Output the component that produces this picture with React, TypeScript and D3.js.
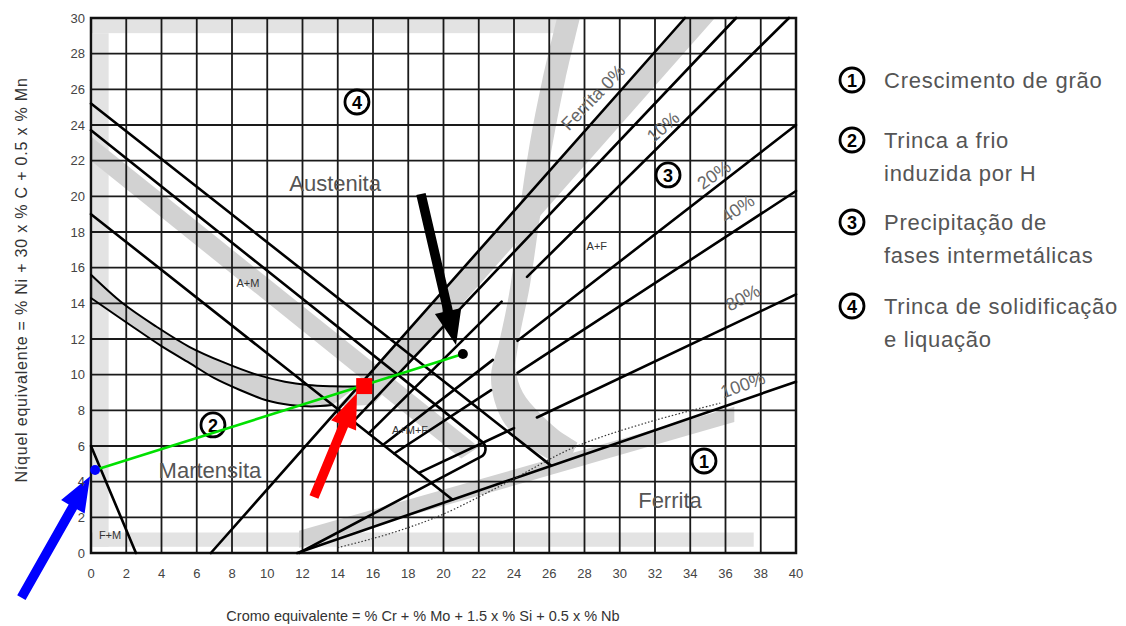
import React from 'react';
import * as d3 from 'd3';

// ---------- data (Cr eq, Ni eq) ----------
const xTicks = d3.range(0, 41, 2);
const yTicks = d3.range(0, 31, 2);

// long black boundary lines [x1, y1, x2, y2]
const boundaryLines: number[][] = [
  [0, 25.2, 26.1, 4.9],
  [0, 19.0, 20.5, 3.0],
  [0, 6.0, 2.55, 0],
  [6.8, 0, 33.7, 30],
  [14.9, 7.4, 36.6, 30],
  [11.7, 0, 40, 9.6],
];
// ferrite iso-lines, part left of the grey crescent
const ferriteLeft: number[][] = [
  [15.76, 6.71, 23.3, 14.1],
  [16.58, 6.07, 22.8, 10.83],
  [17.2, 5.58, 22.7, 9.13],
  [18.6, 4.49, 24.0, 7.0],
];
// ferrite iso-lines, part right of the grey crescent
const ferriteRight: number[][] = [
  [24.74, 15.48, 39.6, 30],
  [24.2, 11.9, 40, 24.0],
  [24.2, 10.1, 40, 20.3],
  [25.3, 7.6, 40, 14.5],
];
// rounded wedge: upper line start, corner, lower line start
const wedge = { a: [0, 23.7], corner: [22.8, 5.75], b: [11.8, 0] };

const upperCurve: [number, number][] = [
  [0, 15.6], [1.8, 14.0], [3.7, 12.7], [5.6, 11.55], [7.5, 10.7], [9.4, 10.0],
  [11.0, 9.6], [12.3, 9.42], [13.7, 9.35], [15.1, 9.33],
];
const lowerCurve: [number, number][] = [
  [0, 14.3], [2.2, 12.8], [4.0, 11.6], [5.6, 10.65], [7.0, 9.8], [8.45, 9.14],
  [10.0, 8.55], [11.3, 8.3], [12.5, 8.22], [13.7, 8.3],
];
const dottedLine: [number, number][] = [
  [14.0, 0.3], [17.0, 1.1], [19.8, 2.1], [23.5, 3.9], [27.35, 5.9], [31.5, 7.3], [35.7, 8.4],
];
const crescentLeft: [number, number][] = [
  [26.44, 30], [25.6, 26.5], [24.9, 23], [24.3, 19], [23.8, 15], [23.2, 12],
  [22.7, 10], [22.9, 8.5], [23.5, 7.2], [24.5, 6.2], [25.9, 5.3], [27, 4.8],
];
const crescentRight: [number, number][] = [
  [27.74, 30], [26.9, 26.5], [26.2, 23], [25.5, 19], [24.9, 15], [24.3, 12],
  [24.1, 10.3], [24.5, 9.0], [25.4, 7.9], [26.5, 6.9], [27.6, 6.2],
];
const lowerBand: [number, number][] = [[11.8, 0.3], [36.5, 7.35], [36.5, 8.2], [11.8, 1.25]];
const ferriteBand: [number, number][] = [[33.7, 30], [35.4, 30], [16.0, 8.3], [14.0, 8.25], [15.1, 9.35]];
const amBand: [number, number][] = [[0, 23.35], [22.0, 5.95], [21.0, 5.3], [0, 22.0]];
const borderBands: number[][] = [
  // x1, y1, x2, y2 (rectangles)
  [0, 29.15, 26.8, 29.95],
  [0.1, 0.35, 1.0, 29.15],
  [0, 0.35, 37.6, 1.15],
];

const regionLabels = [
  { t: 'Austenita', x: 13.85, y: 20.74, s: 22 },
  { t: 'Martensita', x: 6.75, y: 4.65, s: 22 },
  { t: 'Ferrita', x: 32.85, y: 2.97, s: 22 },
  { t: 'A+M', x: 8.9, y: 15.14, s: 11 },
  { t: 'A+F', x: 28.7, y: 17.2, s: 11 },
  { t: 'F+M', x: 1.08, y: 1.0, s: 11 },
  { t: 'A+M+F', x: 18.1, y: 6.9, s: 11 },
];
const pctLabels = [
  { t: 'Ferrita 0%', x: 28.5, y: 25.55, r: -46 },
  { t: '10%', x: 32.47, y: 23.89, r: -41 },
  { t: '20%', x: 35.35, y: 21.2, r: -35 },
  { t: '40%', x: 36.7, y: 19.3, r: -34 },
  { t: '80%', x: 36.99, y: 14.3, r: -28 },
  { t: '100%', x: 36.99, y: 9.42, r: -20 },
];
const circled = [
  { n: '4', x: 15.09, y: 25.29 },
  { n: '3', x: 32.74, y: 21.2 },
  { n: '2', x: 6.92, y: 7.18 },
  { n: '1', x: 34.78, y: 5.16 },
];
const legendItems = [
  { n: '1', lines: ['Crescimento de grão'] },
  { n: '2', lines: ['Trinca a frio', 'induzida por H'] },
  { n: '3', lines: ['Precipitação de', 'fases intermetálicas'] },
  { n: '4', lines: ['Trinca de solidificação', 'e liquação'] },
];
const legendY = [80, 140, 222, 306];

// annotations
const blueDot = [0.23, 4.65];
const redSquare = [15.5, 9.36];
const blackDot = [21.1, 11.16];
const arrows = [
  { tail: [-3.95, -2.5], tip: [-0.05, 4.3], color: '#0000ff' },
  { tail: [12.65, 3.14], tip: [15.09, 8.97], color: '#ff0000' },
  { tail: [18.72, 20.13], tip: [20.71, 11.66], color: '#000000' },
];

const W = 1126;
const H = 626;

export default function App() {
  const x = d3.scaleLinear().domain([0, 40]).range([91, 796]);
  const y = d3.scaleLinear().domain([0, 30]).range([553, 18]);
  const P = (p: number[]) => [x(p[0]), y(p[1])] as [number, number];
  const poly = (pts: number[][]) => pts.map((p) => P(p).join(',')).join(' ');
  const curveGen = d3
    .line<[number, number]>()
    .x((d) => x(d[0]))
    .y((d) => y(d[1]))
    .curve(d3.curveCatmullRom);

  const crescentPath =
    (curveGen(crescentLeft) || '') + 'L' + (curveGen([...crescentRight].reverse()) || '').slice(1) + 'Z';
  const curvedBandPath =
    (curveGen(upperCurve) || '') + 'L' + (curveGen([...lowerCurve].reverse()) || '').slice(1) + 'Z';

  const wp = d3.path();
  const A = P(wedge.a);
  const C = P(wedge.corner);
  const B = P(wedge.b);
  wp.moveTo(A[0], A[1]);
  wp.arcTo(C[0], C[1], B[0], B[1], 9);
  wp.lineTo(B[0], B[1]);

  const arrowPoly = (tail: number[], tip: number[]) => {
    const [x0, y0] = P(tail);
    const [x1, y1] = P(tip);
    const dx = x1 - x0;
    const dy = y1 - y0;
    const L = Math.hypot(dx, dy);
    const ux = dx / L;
    const uy = dy / L;
    const nx = -uy;
    const ny = ux;
    const sw = 4.8;
    const hw = 13.5;
    const hl = 35;
    const bx = x1 - ux * hl;
    const by = y1 - uy * hl;
    const pts = [
      [x0 + nx * sw, y0 + ny * sw],
      [bx + nx * sw, by + ny * sw],
      [bx + nx * hw, by + ny * hw],
      [x1, y1],
      [bx - nx * hw, by - ny * hw],
      [bx - nx * sw, by - ny * sw],
      [x0 - nx * sw, y0 - ny * sw],
    ];
    return pts.map((p) => p.join(',')).join(' ');
  };

  const font = 'Liberation Sans, Arial, sans-serif';
  const gray = '#d2d2d2';

  return (
    <svg
      width={W}
      height={H}
      viewBox={`0 0 ${W} ${H}`}
      style={{ position: 'absolute', left: 0, top: 0, background: '#fff' }}
    >
      <rect x={0} y={0} width={W} height={H} fill="#fff" />
      {/* light border bands */}
      {borderBands.map((b, i) => (
        <rect
          key={'bb' + i}
          x={x(b[0])}
          y={y(b[3])}
          width={x(b[2]) - x(b[0])}
          height={y(b[1]) - y(b[3])}
          fill="#e3e3e3"
        />
      ))}
      {/* grey bands */}
      <polygon points={poly(lowerBand)} fill={gray} />
      <path d={crescentPath} fill={gray} />
      <polygon points={poly(ferriteBand)} fill={gray} />
      <polygon points={poly(amBand)} fill={gray} />
      <path d={curvedBandPath} fill={gray} />

      {/* grid */}
      {xTicks.map((t) => (
        <line key={'gx' + t} x1={x(t)} x2={x(t)} y1={y(0)} y2={y(30)} stroke="#1a1a1a" strokeWidth={1.8} />
      ))}
      {yTicks.map((t) => (
        <line key={'gy' + t} x1={x(0)} x2={x(40)} y1={y(t)} y2={y(t)} stroke="#1a1a1a" strokeWidth={1.8} />
      ))}
      <rect x={x(0)} y={y(30)} width={x(40) - x(0)} height={y(0) - y(30)} fill="none" stroke="#111" strokeWidth={2.5} />

      {/* black lines */}
      <g stroke="#000" strokeWidth={2.6} fill="none" strokeLinecap="round">
        {[...boundaryLines, ...ferriteLeft, ...ferriteRight].map((l, i) => (
          <line key={'bl' + i} x1={x(l[0])} y1={y(l[1])} x2={x(l[2])} y2={y(l[3])} />
        ))}
        <path d={curveGen(upperCurve) || ''} strokeWidth={2} />
        <path d={curveGen(lowerCurve) || ''} strokeWidth={2} />
        <path d={wp.toString()} strokeLinejoin="round" />
      </g>
      <path d={curveGen(dottedLine) || ''} fill="none" stroke="#333" strokeWidth={1.2} strokeDasharray="1.5,2" />

      {/* region labels */}
      {regionLabels.map((l) => (
        <text
          key={l.t}
          x={x(l.x)}
          y={y(l.y)}
          fontSize={l.s}
          fontFamily={font}
          fill={l.s > 15 ? '#555' : '#333'}
          textAnchor="middle"
          dominantBaseline="central"
        >
          {l.t}
        </text>
      ))}
      {pctLabels.map((l) => (
        <text
          key={l.t}
          transform={`translate(${x(l.x)},${y(l.y)}) rotate(${l.r})`}
          fontSize={18}
          fontFamily={font}
          fill="#666"
          textAnchor="middle"
          dominantBaseline="central"
        >
          {l.t}
        </text>
      ))}
      {circled.map((c) => (
        <g key={'c' + c.n} transform={`translate(${x(c.x)},${y(c.y)})`}>
          <circle r={12} fill="none" stroke="#000" strokeWidth={2.8} />
          <text fontSize={18} fontWeight="bold" fontFamily={font} textAnchor="middle" dominantBaseline="central" y={1}>
            {c.n}
          </text>
        </g>
      ))}

      {/* annotations */}
      <line
        x1={x(blueDot[0])}
        y1={y(blueDot[1])}
        x2={x(blackDot[0])}
        y2={y(blackDot[1])}
        stroke="#00e000"
        strokeWidth={2.6}
      />
      <circle cx={x(blueDot[0])} cy={y(blueDot[1])} r={5} fill="#0000ff" />
      <circle cx={x(blackDot[0])} cy={y(blackDot[1])} r={5} fill="#000" />
      <rect x={x(redSquare[0]) - 8} y={y(redSquare[1]) - 8} width={16} height={16} fill="#ff0000" />
      {arrows.map((a, i) => (
        <polygon key={'ar' + i} points={arrowPoly(a.tail, a.tip)} fill={a.color} />
      ))}

      {/* tick labels */}
      {xTicks.map((t) => (
        <text key={'tx' + t} x={x(t)} y={578} fontSize={13} fontFamily={font} fill="#444" textAnchor="middle">
          {t}
        </text>
      ))}
      {yTicks.map((t) => (
        <text
          key={'ty' + t}
          x={85}
          y={y(t)}
          fontSize={13}
          fontFamily={font}
          fill="#444"
          textAnchor="end"
          dominantBaseline="central"
        >
          {t}
        </text>
      ))}
      <text x={423} y={621} fontSize={14.5} fontFamily={font} fill="#333" textAnchor="middle">
        Cromo equivalente = % Cr + % Mo + 1.5 x % Si + 0.5 x % Nb
      </text>
      <text
        transform={`translate(21,280) rotate(-90)`}
        fontSize={16}
        fontFamily={font}
        fill="#333"
        textAnchor="middle"
        dominantBaseline="central"
        letterSpacing={0.8}
      >
        Níquel equivalente = % Ni + 30 x % C + 0.5 x % Mn
      </text>

      {/* legend */}
      {legendItems.map((it, i) => (
        <g key={'lg' + i}>
          <circle cx={852} cy={legendY[i]} r={12} fill="none" stroke="#000" strokeWidth={2.8} />
          <text
            x={852}
            y={legendY[i] + 1}
            fontSize={18}
            fontWeight="bold"
            fontFamily={font}
            textAnchor="middle"
            dominantBaseline="central"
          >
            {it.n}
          </text>
          {it.lines.map((ln, j) => (
            <text
              key={j}
              x={884}
              y={legendY[i] + j * 33}
              fontSize={22}
              fontFamily={font}
              fill="#555"
              dominantBaseline="central"
              letterSpacing={0.75}
            >
              {ln}
            </text>
          ))}
        </g>
      ))}
    </svg>
  );
}
